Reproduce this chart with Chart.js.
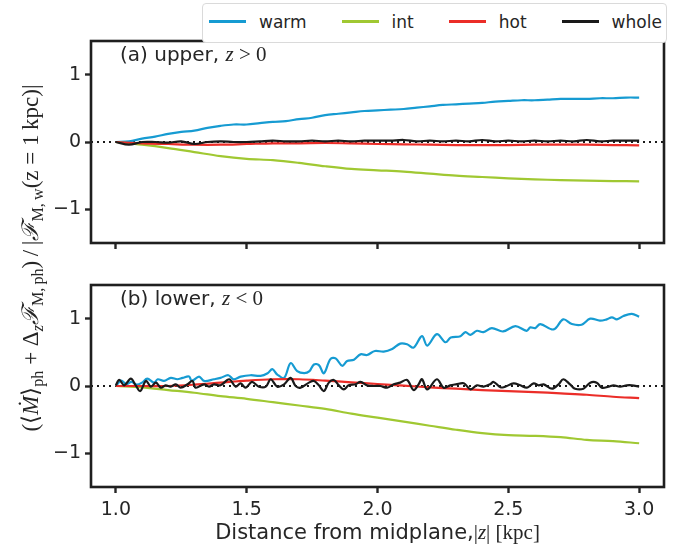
<!DOCTYPE html>
<html lang="en">
<head>
<meta charset="UTF-8">
<title>Flux profiles</title>
<style>
    body { margin: 0; background: #fff; }
    #wrap { position: relative; width: 685px; height: 546px; font-family: "DejaVu Sans", sans-serif; color: #262626; }
    canvas { position: absolute; left: 0; }
    #panelA { top: 0; }
    #panelB { top: 260px; }

    /* legend box above the top panel */
    #legend {
        position: absolute; left: 202px; top: 3px; width: 465px; height: 40px;
        box-sizing: border-box; border: 1px solid #dadada; border-radius: 4px;
        display: flex; align-items: center; padding-left: 6px; padding-bottom: 3px;
        font-size: 17px; background: #fff;
    }
    .item { display: flex; align-items: center; margin-right: 35px; }
    .item .swatch { width: 37px; height: 3px; margin-right: 13px; }

    #ylabel {
        position: absolute; left: -170px; top: 244px; width: 400px; height: 28px; line-height: 28px;
        text-align: center; white-space: nowrap; transform: rotate(-90deg);
        font-family: "Liberation Serif", serif; font-size: 23px; color: #262626;
    }
    #ylabel sub { font-size: 70%; vertical-align: -0.3em; line-height: 0; }
    #ylabel .cal { font-family: "DejaVu Serif", serif; font-style: italic; }
</style>
<script src="https://cdn.jsdelivr.net/npm/chart.js"></script>
</head>
<body>
<div id="wrap">
    <canvas id="panelA" width="685" height="260"></canvas>
    <canvas id="panelB" width="685" height="286"></canvas>
    <div id="legend"></div>
    <div id="ylabel">(⟨<i>Ṁ</i>⟩<sub>ph</sub> + Δ<sub><i>z</i></sub><span class="cal">ℱ</span><sub>M,&thinsp;ph</sub>)&thinsp;/&thinsp;|<span class="cal">ℱ</span><sub>M,&thinsp;w</sub>(z = 1&thinsp;kpc)|</div>
</div>
<script>
    // axis ranges and ticks
    const zMin = 0.905, zMax = 3.095;
    const xTicks = [1.0, 1.5, 2.0, 2.5, 3.0];
    const yTicks = [-1, 0, 1];

    const seriesNames = ['warm', 'int', 'hot', 'whole'];
    const seriesColors = ['#169bd2', '#a0c832', '#eb2d28', '#1a1a1a'];

    // sample positions
    const zCoarse = [1.0, 1.1, 1.2, 1.3, 1.4, 1.5, 1.6, 1.7, 1.8, 1.9, 2.0, 2.1, 2.2, 2.3, 2.4, 2.5, 2.6, 2.7, 2.8, 2.9, 3.0];
    const zUpper = [1.00, 1.05, 1.10, 1.15, 1.20, 1.25, 1.30, 1.35, 1.40, 1.45, 1.50, 1.55, 1.60, 1.65, 1.70, 1.75, 1.80, 1.85, 1.90, 1.95,
                    2.00, 2.05, 2.10, 2.15, 2.20, 2.25, 2.30, 2.35, 2.40, 2.45, 2.50, 2.55, 2.60, 2.65, 2.70, 2.75, 2.80, 2.85, 2.90, 2.95, 3.00];

    // (a) upper, z > 0
    const warmUpper = [0, 0.01, 0.05, 0.08, 0.12, 0.15, 0.17, 0.21, 0.24, 0.26, 0.26, 0.28, 0.30, 0.31, 0.34, 0.36, 0.40, 0.42, 0.44, 0.46,
                       0.47, 0.48, 0.49, 0.51, 0.53, 0.55, 0.56, 0.57, 0.58, 0.60, 0.61, 0.62, 0.62, 0.63, 0.64, 0.64, 0.64, 0.65, 0.65, 0.66, 0.66];
    const wholeUpper = [0, -0.04, 0, 0, -0.01, 0.01, -0.03, 0, 0.01, 0, 0, 0.01, 0.02, 0.01, 0.01, 0.02, 0.01, 0.02, 0.01, 0.02,
                        0.02, 0.02, 0.03, 0.01, 0.02, 0.01, 0.02, 0.01, 0.03, 0.01, 0.02, 0.01, 0.02, 0.01, 0.02, 0.01, 0.03, 0.01, 0.02, 0.02, 0.02];
    const intUpper = [0, -0.04, -0.09, -0.15, -0.21, -0.25, -0.27, -0.31, -0.36, -0.40, -0.42, -0.44, -0.47, -0.50, -0.52, -0.54, -0.555, -0.565, -0.575, -0.58, -0.585];
    const hotUpper = [0, -0.02, -0.03, -0.04, -0.04, -0.03, -0.02, -0.02, -0.015, -0.02, -0.03, -0.035, -0.04, -0.045, -0.045, -0.045, -0.04, -0.04, -0.04, -0.045, -0.05];

    // (b) lower, z < 0
    const warmLowerZ = [1.00, 1.02, 1.04, 1.06, 1.08, 1.10, 1.12, 1.146, 1.16, 1.184, 1.21, 1.235, 1.255, 1.28, 1.29, 1.318, 1.337, 1.375, 1.40, 1.43,
                        1.45, 1.477, 1.515, 1.553, 1.58, 1.598, 1.617, 1.643, 1.668, 1.693, 1.72, 1.74, 1.757, 1.776, 1.795, 1.82, 1.84, 1.865, 1.884, 1.91,
                        1.935, 1.96, 1.99, 2.024, 2.056, 2.087, 2.113, 2.138, 2.17, 2.19, 2.227, 2.26, 2.28, 2.317, 2.336, 2.355, 2.38, 2.405, 2.437, 2.48,
                        2.527, 2.57, 2.584, 2.603, 2.622, 2.673, 2.71, 2.743, 2.78, 2.813, 2.85, 2.876, 2.896, 2.915, 2.94, 2.972, 3.00];
    const warmLowerV = [0.0, 0.08, 0.03, 0.06, 0.02, 0.05, 0.11, 0.05, 0.10, 0.075, 0.12, 0.10, 0.12, 0.14, 0.075, 0.14, 0.075, 0.10, 0.12, 0.16,
                        0.10, 0.14, 0.16, 0.15, 0.19, 0.25, 0.17, 0.12, 0.34, 0.22, 0.19, 0.22, 0.32, 0.31, 0.19, 0.40, 0.41, 0.30, 0.37, 0.39,
                        0.47, 0.46, 0.52, 0.51, 0.55, 0.63, 0.62, 0.57, 0.74, 0.60, 0.77, 0.65, 0.72, 0.74, 0.80, 0.76, 0.82, 0.80, 0.86, 0.81,
                        0.89, 0.82, 0.87, 0.86, 0.92, 0.84, 0.99, 0.92, 0.91, 1.00, 0.97, 0.99, 1.02, 0.99, 1.04, 1.07, 1.03];
    const wholeLowerZ = [1.000, 1.013, 1.032, 1.057, 1.076, 1.093, 1.115, 1.134, 1.153, 1.172, 1.19, 1.21, 1.229, 1.248, 1.274, 1.293, 1.305, 1.337, 1.356, 1.375,
                         1.40, 1.433, 1.458, 1.477, 1.496, 1.52, 1.547, 1.573, 1.592, 1.617, 1.643, 1.668, 1.687, 1.706, 1.738, 1.757, 1.776, 1.795, 1.814, 1.833,
                         1.852, 1.871, 1.89, 1.916, 1.935, 1.96, 1.986, 2.011, 2.037, 2.062, 2.087, 2.113, 2.138, 2.157, 2.17, 2.19, 2.227, 2.253, 2.278, 2.30,
                         2.33, 2.355, 2.38, 2.405, 2.43, 2.444, 2.47, 2.488, 2.52, 2.546, 2.571, 2.597, 2.616, 2.635, 2.667, 2.692, 2.71, 2.736, 2.755, 2.787,
                         2.813, 2.838, 2.857, 2.883, 2.902, 2.927, 2.953, 2.972, 3.00];
    const wholeLowerV = [0.01, 0.09, 0.01, 0.11, 0.01, -0.075, 0.075, -0.01, 0.05, -0.025, 0.01, -0.01, 0.025, -0.025, 0.025, 0.075, -0.025, 0.025, -0.01, 0.025,
                         0.01, 0.10, -0.01, 0.04, -0.025, 0.06, -0.01, -0.01, 0.10, -0.01, 0.025, 0.12, 0.0, -0.025, 0.05, 0.075, 0.01, -0.075, 0.05, 0.09,
                         0.01, -0.05, 0.01, 0.025, 0.06, 0.01, 0.0, 0.0, -0.025, 0.025, 0.05, 0.09, -0.06, 0.025, 0.10, -0.05, 0.10, -0.025, 0.01, 0.025,
                         0.04, -0.05, 0.01, -0.01, 0.025, 0.06, -0.02, -0.01, 0.04, 0.01, -0.025, 0.04, 0.01, 0.025, -0.04, 0.025, 0.10, 0.025, -0.04, -0.04,
                         0.05, 0.05, -0.025, -0.01, 0.01, -0.01, 0.01, 0.01, -0.01];
    const intLower = [0, -0.02, -0.06, -0.10, -0.15, -0.19, -0.24, -0.29, -0.34, -0.41, -0.47, -0.53, -0.59, -0.65, -0.70, -0.73, -0.74, -0.76, -0.80, -0.82, -0.85];
    const hotLower = [0, 0.0, 0.0, 0.02, 0.05, 0.08, 0.10, 0.10, 0.08, 0.055, 0.03, 0.005, -0.02, -0.04, -0.06, -0.075, -0.09, -0.11, -0.13, -0.16, -0.18];

    function pairs(zs, vs) {
        return zs.map((z, i) => ({ x: z, y: vs[i] }));
    }

    // draws a run of differently styled text pieces, left to right
    function drawParts(ctx, parts, x, y) {
        for (const p of parts) {
            ctx.font = p.font;
            ctx.fillText(p.text, x, y);
            x += ctx.measureText(p.text).width;
        }
    }
    function partsWidth(ctx, parts) {
        let w = 0;
        for (const p of parts) { ctx.font = p.font; w += ctx.measureText(p.text).width; }
        return w;
    }

    // frame, panel tag and (bottom panel only) x axis title
    const panelDecor = {
        id: 'panelDecor',
        afterDraw(chart, args, opts) {
            const { ctx, chartArea: a } = chart;
            ctx.save();
            ctx.strokeStyle = '#1f1f1f';
            ctx.lineWidth = 2.6;
            ctx.strokeRect(a.left, a.top, a.right - a.left, a.bottom - a.top);
            ctx.fillStyle = '#262626';
            ctx.textBaseline = 'alphabetic';
            drawParts(ctx, opts.tag, a.left + 29, a.top + 20);
            if (opts.xlabel) {
                const w = partsWidth(ctx, opts.xlabel);
                drawParts(ctx, opts.xlabel, (a.left + a.right) / 2 - w / 2, opts.xlabelY);
            }
            ctx.restore();
        }
    };

    const sans = '20px "DejaVu Sans"';
    const serif = '21px "Liberation Serif"';
    const serifIt = 'italic 21px "Liberation Serif"';

    function makePanel(id, series, tag, bottom) {
        const datasets = series.map((s, i) => ({
            label: seriesNames[i],
            data: s,
            borderColor: seriesColors[i],
            borderWidth: 2.2,
            pointRadius: 0,
            fill: false,
            tension: 0.35,
            order: 4 - i
        }));
        // dotted zero line across the whole panel
        datasets.push({
            label: 'zero', data: [{ x: zMin, y: 0 }, { x: zMax, y: 0 }],
            borderColor: '#1a1a1a', borderWidth: 2, borderDash: [2, 4], pointRadius: 0, order: 5
        });

        const tickGrid = { display: true, drawOnChartArea: false, drawTicks: true, tickLength: 6, tickWidth: 2.4, tickColor: '#262626' };

        return new Chart(document.getElementById(id), {
            type: 'line',
            data: { datasets },
            options: {
                responsive: false,
                animation: false,
                devicePixelRatio: 1,
                layout: { padding: { top: bottom ? 25 : 41, right: 21, left: 0, bottom: 0 } },
                plugins: {
                    legend: { display: false },
                    tooltip: { enabled: false },
                    panelDecor: {
                        tag: tag,
                        xlabel: bottom ? [
                            { text: 'Distance from midplane,', font: '21px "DejaVu Sans"' },
                            { text: '|', font: serif },
                            { text: 'z', font: serifIt },
                            { text: '| [kpc]', font: serif }
                        ] : null,
                        xlabelY: 279
                    }
                },
                scales: {
                    x: {
                        type: 'linear', min: zMin, max: zMax,
                        afterBuildTicks: s => { s.ticks = xTicks.map(v => ({ value: v })); },
                        afterFit: s => { s.height = bottom ? 59 : 17; },
                        grid: tickGrid,
                        border: { display: false },
                        ticks: { display: bottom, autoSkip: false, maxRotation: 0, padding: 6, font: { size: 19 }, callback: v => v.toFixed(1) }
                    },
                    y: {
                        min: -1.5, max: 1.5,
                        afterBuildTicks: s => { s.ticks = yTicks.map(v => ({ value: v })); },
                        afterFit: s => { s.width = 91; },
                        grid: tickGrid,
                        border: { display: false },
                        ticks: { padding: 4, font: { size: 19 }, callback: v => v < 0 ? '\u2212' + Math.abs(v) : String(v) }
                    }
                }
            },
            plugins: [panelDecor]
        });
    }

    Chart.defaults.font.family = '"DejaVu Sans", sans-serif';
    Chart.defaults.color = '#262626';

    makePanel('panelA', [
        pairs(zUpper, warmUpper),
        pairs(zCoarse, intUpper),
        pairs(zCoarse, hotUpper),
        pairs(zUpper, wholeUpper)
    ], [
        { text: '(a) upper, ', font: sans },
        { text: 'z', font: serifIt },
        { text: ' > 0', font: serif }
    ], false);

    makePanel('panelB', [
        pairs(warmLowerZ, warmLowerV),
        pairs(zCoarse, intLower),
        pairs(zCoarse, hotLower),
        pairs(wholeLowerZ, wholeLowerV)
    ], [
        { text: '(b) lower, ', font: sans },
        { text: 'z', font: serifIt },
        { text: ' < 0', font: serif }
    ], true);

    // legend built from the series names and colours
    const legend = document.getElementById('legend');
    seriesNames.forEach((name, i) => {
        const item = document.createElement('div');
        item.className = 'item';
        const sw = document.createElement('span');
        sw.className = 'swatch';
        sw.style.background = seriesColors[i];
        const label = document.createElement('span');
        label.textContent = name;
        item.appendChild(sw);
        item.appendChild(label);
        legend.appendChild(item);
    });
</script>
</body>
</html>
